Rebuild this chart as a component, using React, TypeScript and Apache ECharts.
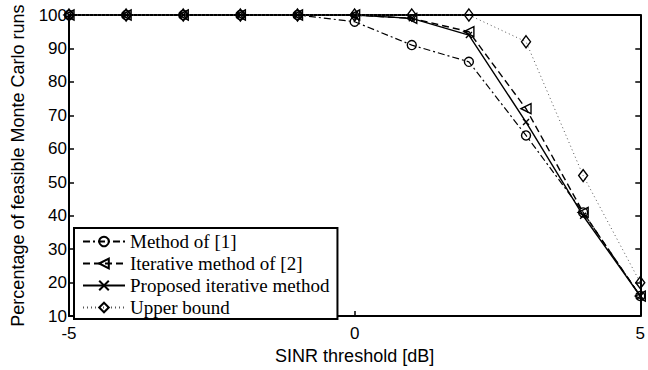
import React, { useEffect, useRef } from "react";
import * as echarts from "echarts";

const xValues = [-5, -4, -3, -2, -1, 0, 1, 2, 3, 4, 5];
const method1 = [100, 100, 100, 100, 100, 98, 91, 86, 64, 41, 16];
const iterative2 = [100, 100, 100, 100, 100, 100, 99, 95, 72, 41, 16];
const proposed = [100, 100, 100, 100, 100, 100, 99, 94, 68, 40, 16];
const upperBound = [100, 100, 100, 100, 100, 100, 100, 100, 92, 52, 20];
const seriesNames = [
  "Method of [1]",
  "Iterative method of [2]",
  "Proposed iterative method",
  "Upper bound",
];

const pairs = (ys: number[]) => xValues.map((x, i) => [x, ys[i]]);

const crossPath = "path://M0,0L10,10M0,10L10,0";

export default function App() {
  const ref = useRef<HTMLDivElement>(null);
  useEffect(() => {
    if (!ref.current) return;
    const chart = echarts.init(ref.current, undefined, { renderer: "svg" });
    const hollow = {
      color: "rgba(0,0,0,0)",
      borderColor: "#000",
      borderWidth: 1.4,
    };
    const sans = "Liberation Sans, Arial, sans-serif";
    const tick = { show: true, inside: true, length: 5, lineStyle: { color: "#000", width: 1.5 } };
    const line = { show: true, onZero: false, lineStyle: { color: "#000", width: 2 } };
    chart.setOption({
      animation: false,
      backgroundColor: "#fff",
      grid: { left: 69, top: 15, right: 5, bottom: 45, containLabel: false },
      legend: {
        orient: "vertical",
        left: 74,
        top: 228,
        backgroundColor: "#fff",
        borderColor: "#000",
        borderWidth: 2,
        borderRadius: 0,
        padding: [4, 8, 2, 8],
        itemGap: 3,
        itemWidth: 42,
        itemHeight: 12,
        textStyle: {
          fontFamily: "Liberation Serif, Times New Roman, serif",
          fontSize: 19,
          color: "#000",
        },
        data: seriesNames,
      },
      xAxis: [
        {
          type: "value",
          min: -5,
          max: 5,
          interval: 5,
          name: "SINR threshold [dB]",
          nameLocation: "middle",
          nameGap: 24,
          nameTextStyle: { fontFamily: sans, fontSize: 18, color: "#000" },
          axisLine: line,
          axisTick: tick,
          axisLabel: { fontFamily: sans, fontSize: 17, color: "#000", margin: 9 },
          splitLine: { show: false },
        },
        {
          type: "value",
          position: "top",
          min: -5,
          max: 5,
          interval: 5,
          axisLine: line,
          axisTick: tick,
          axisLabel: { show: false },
          splitLine: { show: false },
        },
      ],
      yAxis: [
        {
          type: "value",
          min: 10,
          max: 100,
          interval: 10,
          name: "Percentage of feasible Monte Carlo runs",
          nameLocation: "middle",
          nameGap: 42,
          nameTextStyle: { fontFamily: sans, fontSize: 18, color: "#000" },
          axisLine: line,
          axisTick: tick,
          axisLabel: { fontFamily: sans, fontSize: 17, color: "#000", margin: 2 },
          splitLine: { show: false },
        },
        {
          type: "value",
          position: "right",
          min: 10,
          max: 100,
          interval: 10,
          axisLine: line,
          axisTick: tick,
          axisLabel: { show: false },
          splitLine: { show: false },
        },
      ],
      series: [
        {
          name: seriesNames[0],
          type: "line",
          data: pairs(method1),
          clip: false,
          color: "#000",
          symbol: "circle",
          symbolSize: 9,
          itemStyle: hollow,
          lineStyle: { color: "#000", width: 1.2, type: [7, 3, 2, 3] },
        },
        {
          name: seriesNames[1],
          type: "line",
          data: pairs(iterative2),
          clip: false,
          color: "#000",
          symbol: "triangle",
          symbolRotate: 90,
          symbolSize: 10,
          itemStyle: hollow,
          lineStyle: { color: "#000", width: 1.4, type: [7, 4] },
        },
        {
          name: seriesNames[2],
          type: "line",
          data: pairs(proposed),
          clip: false,
          color: "#000",
          symbol: crossPath,
          symbolSize: 6,
          itemStyle: hollow,
          lineStyle: { color: "#000", width: 1.4, type: "solid" },
        },
        {
          name: seriesNames[3],
          type: "line",
          data: pairs(upperBound),
          clip: false,
          color: "#000",
          symbol: "diamond",
          symbolSize: [9, 12],
          itemStyle: hollow,
          lineStyle: { color: "#555", width: 1, type: [1, 3] },
        },
      ],
    });
    return () => chart.dispose();
  }, []);
  return (
    <div
      ref={ref}
      style={{ position: "absolute", left: 0, top: 0, width: 648, height: 370, background: "#fff" }}
    />
  );
}
